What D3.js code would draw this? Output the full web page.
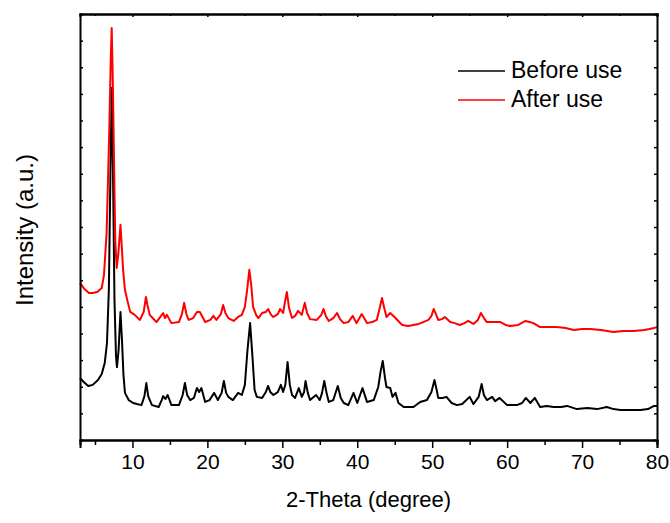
<!DOCTYPE html>
<html>
<head>
<meta charset="utf-8">
<script src="https://cdn.jsdelivr.net/npm/d3@7"></script>
<style>
  body { margin: 0; background: #fff; }
  text { font-family: "Liberation Sans", Arial, sans-serif; fill: #000; }
</style>
</head>
<body>
<svg id="xrd" width="670" height="523"></svg>
<script>
// 2-theta (deg) and intensity (a.u.)
const beforeTheta = [3.0, 3.5, 4.1, 4.7, 5.4, 5.9, 6.3, 6.6, 6.85, 7.05, 7.23, 7.4, 7.6, 7.8, 7.93, 8.15, 8.4, 8.6, 8.8, 9.0,
  9.5, 10.1, 10.6, 11.2, 11.6, 11.85, 12.1, 12.6, 13.5, 13.9, 14.1, 14.4, 14.7, 15.2, 16.2, 16.7, 17.0, 17.3, 17.7, 18.2,
  18.6, 18.9, 19.2, 19.7, 20.3, 20.9, 21.4, 21.9, 22.2, 22.5, 22.8, 23.4, 24.1, 24.6, 25.0, 25.35, 25.7, 26.0, 26.3, 26.6,
  27.3, 27.8, 28.1, 28.4, 28.8, 29.4, 29.8, 30.1, 30.4, 30.7, 31.0, 31.3, 31.7, 32.2, 32.6, 32.9, 33.1, 33.4, 33.7, 34.5,
  35.0, 35.3, 35.6, 35.9, 36.2, 36.8, 37.4, 37.8, 38.2, 38.8, 39.5, 40.0, 40.7, 41.3, 42.2, 42.8, 43.1, 43.4, 43.7, 43.9,
  44.4, 44.7, 45.1, 45.5, 46.2, 47.5, 48.4, 49.3, 49.9, 50.3, 50.6, 50.8, 51.4, 51.9, 52.6, 53.3, 54.0, 55.0, 55.5, 56.2,
  56.6, 56.9, 57.3, 58.0, 58.4, 59.0, 60.0, 61.3, 62.0, 62.5, 63.1, 63.7, 64.4, 65.3, 66.2, 67.2, 68.0, 69.3, 70.7, 72.0,
  73.3, 74.2, 75.1, 76.5, 77.8, 78.8, 79.6, 80.0];
const beforeUse = [2.33, 2.18, 2.03, 2.07, 2.25, 2.48, 2.89, 3.64, 5.63, 9.77, 13.22, 10.14, 5.26, 3.19, 2.74, 3.38, 4.81, 3.76, 2.44, 1.77,
  1.50, 1.39, 1.35, 1.31, 1.65, 2.14, 1.65, 1.31, 1.24, 1.50, 1.65, 1.54, 1.69, 1.31, 1.31, 1.69, 2.14, 1.69, 1.50, 1.58,
  1.95, 1.80, 1.95, 1.43, 1.50, 1.77, 1.50, 1.77, 2.22, 1.77, 1.62, 1.50, 1.77, 1.69, 2.07, 3.38, 4.39, 3.19, 1.88, 1.62,
  1.58, 1.80, 2.03, 1.80, 1.69, 1.80, 2.07, 1.80, 2.07, 2.93, 2.07, 1.69, 1.58, 1.95, 1.62, 1.80, 2.22, 1.77, 1.50, 1.69,
  1.50, 1.77, 2.22, 1.77, 1.43, 1.50, 2.03, 1.58, 1.39, 1.31, 1.77, 1.39, 1.95, 1.43, 1.50, 1.99, 2.55, 2.97, 2.33, 1.99,
  1.95, 1.62, 1.77, 1.39, 1.24, 1.24, 1.43, 1.50, 1.80, 2.25, 1.88, 1.58, 1.58, 1.62, 1.39, 1.31, 1.35, 1.62, 1.35, 1.62,
  2.10, 1.69, 1.50, 1.62, 1.46, 1.58, 1.31, 1.31, 1.39, 1.58, 1.39, 1.58, 1.24, 1.28, 1.24, 1.24, 1.28, 1.16, 1.20, 1.16,
  1.24, 1.16, 1.13, 1.13, 1.13, 1.16, 1.28, 1.28];

const afterTheta = [3.0, 3.6, 4.2, 4.7, 5.3, 5.9, 6.2, 6.55, 6.9, 7.1, 7.23, 7.35, 7.5, 7.7, 7.9, 8.1, 8.4, 8.6, 8.75, 9.0,
  9.4, 9.7, 10.3, 11.0, 11.5, 11.8, 12.0, 12.3, 13.2, 13.6, 14.1, 14.35, 14.6, 15.2, 16.2, 16.6, 16.9, 17.2, 17.5, 18.1,
  18.6, 19.0, 19.7, 20.4, 20.8, 21.2, 21.8, 22.1, 22.4, 22.8, 23.5, 24.1, 24.6, 25.0, 25.3, 25.6, 25.85, 26.1, 26.5, 26.8,
  27.3, 27.8, 28.1, 28.5, 28.8, 29.4, 29.7, 30.1, 30.4, 30.6, 30.9, 31.3, 31.7, 32.1, 32.6, 33.0, 33.3, 33.7, 34.6, 35.2,
  35.5, 35.8, 36.2, 36.8, 37.3, 37.7, 38.2, 38.8, 39.4, 39.9, 40.6, 41.3, 42.0, 42.6, 43.0, 43.3, 43.6, 43.9, 44.4, 45.1,
  45.6, 46.0, 46.8, 47.5, 48.2, 48.8, 49.5, 49.9, 50.2, 50.5, 50.8, 51.3, 51.7, 52.4, 53.0, 53.7, 54.3, 54.8, 55.5, 56.1,
  56.5, 56.9, 57.3, 58.0, 59.1, 59.8, 60.4, 61.5, 62.4, 63.0, 63.5, 64.4, 65.5, 66.6, 67.8, 68.9, 70.0, 71.1, 72.5, 74.2,
  75.5, 76.9, 78.3, 79.0, 79.6, 80.0];
const afterUse = [5.90, 5.67, 5.52, 5.52, 5.56, 5.71, 6.20, 7.77, 11.53, 14.27, 15.47, 13.90, 11.27, 7.51, 6.46, 6.95, 8.08, 7.14, 6.39, 5.63,
  5.15, 4.81, 4.70, 4.51, 4.81, 5.37, 5.07, 4.70, 4.43, 4.58, 4.77, 4.58, 4.70, 4.39, 4.43, 4.73, 5.15, 4.73, 4.51, 4.58,
  4.81, 4.81, 4.43, 4.51, 4.66, 4.51, 4.73, 5.07, 4.77, 4.58, 4.47, 4.62, 4.70, 5.00, 5.63, 6.39, 5.82, 5.00, 4.70, 4.58,
  4.77, 4.81, 4.92, 4.70, 4.62, 4.73, 4.92, 4.77, 5.26, 5.56, 4.96, 4.58, 4.66, 4.85, 4.70, 5.15, 4.77, 4.54, 4.51, 4.70,
  4.92, 4.66, 4.47, 4.58, 4.77, 4.54, 4.39, 4.43, 4.66, 4.39, 4.73, 4.39, 4.43, 4.51, 4.96, 5.33, 4.96, 4.62, 4.77, 4.58,
  4.43, 4.32, 4.28, 4.32, 4.36, 4.43, 4.51, 4.66, 4.92, 4.73, 4.51, 4.54, 4.62, 4.43, 4.39, 4.32, 4.39, 4.47, 4.36, 4.51,
  4.77, 4.58, 4.43, 4.43, 4.43, 4.32, 4.28, 4.32, 4.47, 4.43, 4.39, 4.24, 4.24, 4.24, 4.21, 4.13, 4.17, 4.17, 4.13, 4.06,
  4.09, 4.09, 4.13, 4.17, 4.21, 4.24];

const xTicks = [10, 20, 30, 40, 50, 60, 70, 80];
const seriesNames = ["Before use", "After use"];
const seriesColors = ["#000000", "#ff0000"];

const svg = d3.select("#xrd");
const margin = { top: 14, right: 13, bottom: 83, left: 80 };
const width = +svg.attr("width") - margin.left - margin.right;
const height = +svg.attr("height") - margin.top - margin.bottom;

const chart = svg.append("g")
  .attr("transform", `translate(${margin.left},${margin.top})`);

const x = d3.scaleLinear().domain([3, 80]).range([0, width]);
const y = d3.scaleLinear().domain([0, 16]).range([height, 0]);

// traces
const line = d3.line().x(d => x(d[0])).y(d => y(d[1]));
const series = [
  d3.zip(beforeTheta, beforeUse),
  d3.zip(afterTheta, afterUse)
];
chart.selectAll("path.trace")
  .data(series)
  .join("path")
  .attr("class", "trace")
  .attr("fill", "none")
  .attr("stroke", (d, i) => seriesColors[i])
  .attr("stroke-width", 2)
  .attr("stroke-linejoin", "round")
  .attr("d", line);

// axes: frame with major/minor ticks
const minorX = d3.range(5, 80, 10);
const yTicks = d3.range(1, 16);

const bottomAxis = chart.append("g").attr("transform", `translate(0,${height})`);
bottomAxis.call(d3.axisBottom(x).tickValues(xTicks).tickSize(8).tickPadding(6).tickFormat(d3.format("d")));
bottomAxis.append("g").call(d3.axisBottom(x).tickValues(minorX).tickSize(5).tickFormat(""));

const topAxis = chart.append("g");
topAxis.call(d3.axisTop(x).tickValues(xTicks).tickSize(-3).tickFormat(""));
topAxis.append("g").call(d3.axisTop(x).tickValues(minorX).tickSize(-2).tickFormat(""));

chart.append("g").call(d3.axisLeft(y).tickValues(yTicks).tickSize(-3).tickFormat(""));
chart.append("g").attr("transform", `translate(${width},0)`)
  .call(d3.axisRight(y).tickValues(yTicks).tickSize(-3).tickFormat(""));

chart.selectAll(".domain").attr("stroke", "#000").attr("stroke-width", 2);
chart.selectAll(".tick line").attr("stroke", "#000").attr("stroke-width", 1.5);
bottomAxis.selectAll(".tick text").style("font-size", "21px").attr("fill", "#000");

// titles
svg.append("text")
  .attr("x", margin.left + width / 2)
  .attr("y", 507)
  .attr("text-anchor", "middle")
  .style("font-size", "22px")
  .text("2-Theta (degree)");

svg.append("text")
  .attr("transform", "translate(33,230) rotate(-90)")
  .attr("text-anchor", "middle")
  .style("font-size", "24px")
  .text("Intensity (a.u.)");

// legend
const legend = svg.append("g").attr("transform", "translate(458,71)");
seriesNames.forEach((name, i) => {
  const row = legend.append("g").attr("transform", `translate(0,${i * 29})`);
  row.append("line")
    .attr("x1", 0).attr("x2", 47)
    .attr("stroke", seriesColors[i])
    .attr("stroke-width", 1.5);
  row.append("text")
    .attr("x", 53).attr("y", 7)
    .style("font-size", "23px")
    .text(name);
});
</script>
</body>
</html>
